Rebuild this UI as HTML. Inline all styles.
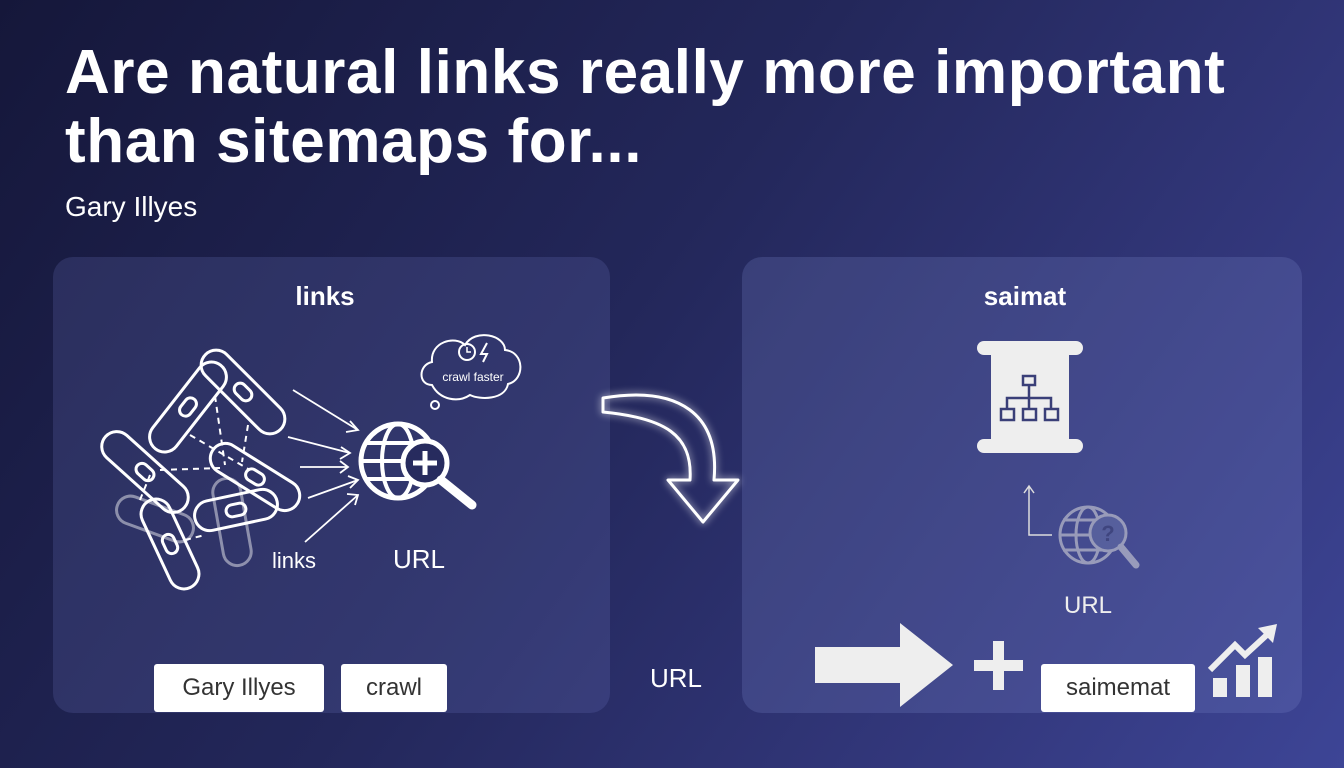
<!DOCTYPE html>
<html><head><meta charset="utf-8"><style>
html,body{margin:0;padding:0}
body{width:1344px;height:768px;overflow:hidden;background:linear-gradient(125deg,#15173a 0%,#23275a 45%,#34397f 80%,#3d4596 100%);font-family:"Liberation Sans",sans-serif;position:relative;color:#fff}
h1{position:absolute;left:65px;top:38px;margin:0;font-size:62px;line-height:69px;font-weight:bold;letter-spacing:0.6px}
.sub{position:absolute;left:65px;top:191px;font-size:28px}
.panel{position:absolute;top:257px;height:456px;border-radius:20px;background:rgba(110,120,190,0.22)}
.btn{position:absolute;background:#fff;color:#333;border-radius:3px;font-size:24px;text-align:center;line-height:48px;height:48px}
</style></head><body>
<h1>Are natural links really more important<br>than sitemaps for...</h1>
<div class="sub">Gary Illyes</div>
<div class="panel" style="left:53px;width:557px"></div>
<div class="panel" style="left:742px;width:560px;background:rgba(120,130,200,0.25)"></div>
<div class="btn" style="left:154px;top:664px;width:170px">Gary Illyes</div>
<div class="btn" style="left:341px;top:664px;width:106px">crawl</div>
<div class="btn" style="left:1041px;top:664px;width:154px">saimemat</div>
<svg width="1344" height="768" style="position:absolute;left:0;top:0" font-family="Liberation Sans, sans-serif">
<defs><filter id="g"><feGaussianBlur stdDeviation="4"/></filter></defs>
<text x="325" y="305" font-size="26" font-weight="bold" fill="#fff" text-anchor="middle">links</text>
<text x="1025" y="305" font-size="26" font-weight="bold" fill="#fff" text-anchor="middle">saimat</text>
<g fill="none" stroke="#fff" stroke-width="3">
<g opacity="0.45"><rect x="115" y="505" width="80" height="28" rx="14" transform="rotate(20 155 519)"/><rect x="188" y="508" width="88" height="28" rx="14" transform="rotate(80 232 522)"/></g>
<g transform="rotate(45 243 392)"><rect x="190" y="377" width="106" height="30" rx="15"/><rect x="233" y="386" width="20" height="12" rx="6"/></g>
<g transform="rotate(-52 188 407)"><rect x="135" y="392" width="106" height="30" rx="15"/><rect x="178" y="401" width="20" height="12" rx="6"/></g>
<g transform="rotate(42 145 472)"><rect x="92" y="457" width="106" height="30" rx="15"/><rect x="135" y="466" width="20" height="12" rx="6"/></g>
<g transform="rotate(32 255 477)"><rect x="205" y="462" width="100" height="30" rx="15"/><rect x="245" y="471" width="20" height="12" rx="6"/></g>
<g transform="rotate(-12 236 510)"><rect x="194" y="495" width="84" height="30" rx="15"/><rect x="226" y="504" width="20" height="12" rx="6"/></g>
<g transform="rotate(65 170 544)"><rect x="122" y="529" width="96" height="30" rx="15"/><rect x="160" y="538" width="20" height="12" rx="6"/></g>
<g stroke-dasharray="6 5" stroke-width="2"><path d="M190 435 L250 470 M160 470 L220 468 M215 396 L225 465 M248 425 L242 462 M185 540 L205 535 M140 500 L150 475"/></g>
<g stroke-width="1.8"><path d="M293 390 L358 430 M288 437 L350 453 M300 467 L348 467 M308 498 L358 480 M305 542 L358 495"/>
<path d="M350 421 L358 430 L346 432 M341 447 L350 453 L340 459 M340 461 L348 467 L340 473 M348 476 L358 480 L350 488 M347 494 L358 495 L355 505"/></g>
<circle cx="398" cy="461" r="37" stroke-width="5"/><ellipse cx="398" cy="461" rx="16" ry="37" stroke-width="4"/><path d="M361 461 H435 M365 443 H431 M365 479 H431" stroke-width="4"/>
<circle cx="425" cy="463" r="22" fill="#272b5e" stroke-width="5"/><path d="M425 451 V475 M413 463 H437" stroke-width="5"/><path d="M441 480 L472 505" stroke-width="9" stroke-linecap="round"/>
<path d="M432 385 C418 385 418 365 432 362 C430 342 455 335 465 345 C475 328 505 335 505 350 C525 352 525 380 508 384 C505 400 480 400 470 395 C458 403 440 400 432 385 Z" stroke-width="2"/>
<circle cx="435" cy="405" r="4" stroke-width="2"/>
<circle cx="467" cy="352" r="8" stroke-width="2"/><path d="M467 347 V352 H471" stroke-width="1.5"/><path d="M487 343 L481 354 H487 L483 362" stroke-width="2"/>
</g>
<text x="473" y="381" font-size="12" fill="#fff" text-anchor="middle">crawl faster</text>
<text x="294" y="568" font-size="22" fill="#fff" text-anchor="middle">links</text>
<text x="419" y="568" font-size="26" fill="#fff" text-anchor="middle">URL</text>
<g fill="none" stroke="#fff" stroke-width="3" stroke-linejoin="round">
<path filter="url(#g)" opacity="0.8" d="M603 398 C680 385 720 415 714 480 L738 480 L703 522 L668 480 L690 480 C693 435 665 418 603 412 Z"/>
<path d="M603 398 C680 385 720 415 714 480 L738 480 L703 522 L668 480 L690 480 C693 435 665 418 603 412 Z"/>
</g>
<text x="676" y="687" font-size="26" fill="#fff" text-anchor="middle">URL</text>
<g fill="#eee">
<rect x="977" y="341" width="106" height="14" rx="7"/><rect x="977" y="439" width="106" height="14" rx="7"/>
<rect x="991" y="355" width="78" height="84"/>
</g>
<g fill="none" stroke="#3a3f78" stroke-width="2.5"><rect x="1023" y="376" width="12" height="9"/><rect x="1001" y="409" width="13" height="11"/><rect x="1023" y="409" width="13" height="11"/><rect x="1045" y="409" width="13" height="11"/><path d="M1029 385 V398 M1007 409 V398 H1051 V409 M1029 398 V409"/></g>
<path d="M1029 487 V535 H1052 M1024 493 L1029 486 L1034 493" fill="none" stroke="#ddd" stroke-width="1.5"/>
<g opacity="0.55" fill="none" stroke="#ddd" stroke-width="3"><circle cx="1088" cy="535" r="28"/><ellipse cx="1088" cy="535" rx="12" ry="28"/><path d="M1060 535 H1116 M1063 520 H1113 M1063 550 H1113"/><circle cx="1108" cy="533" r="18" fill="#6670a8"/><path d="M1121 547 L1136 565" stroke-width="7" stroke-linecap="round"/></g>
<text x="1108" y="541" font-size="22" font-weight="bold" fill="#3a3f78" text-anchor="middle" opacity="0.8">?</text>
<text x="1088" y="613" font-size="24" fill="#eee" text-anchor="middle">URL</text>
<path d="M815 647 H900 V623 L953 665 L900 707 V683 H815 Z" fill="#eee"/>
<path d="M974 660 H993 V641 H1004 V660 H1023 V671 H1004 V690 H993 V671 H974 Z" fill="#eee"/>
<g fill="#eee"><rect x="1213" y="678" width="14" height="19"/><rect x="1236" y="665" width="14" height="32"/><rect x="1258" y="657" width="14" height="40"/></g>
<path d="M1210 670 L1235 645 L1245 655 L1270 632" fill="none" stroke="#eee" stroke-width="6"/><path d="M1258 628 L1277 624 L1273 643 Z" fill="#eee"/>
</svg>
</body></html>
